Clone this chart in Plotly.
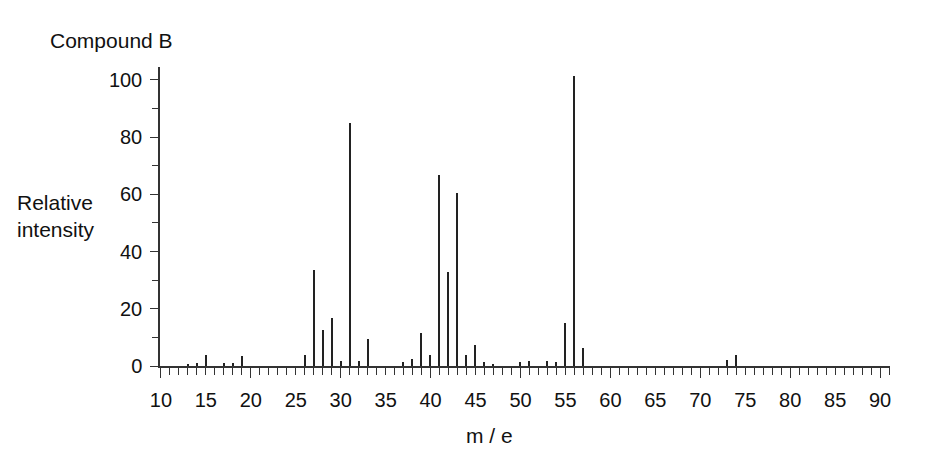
import plotly.graph_objects as go

# mass spectrum peaks (m/e) and relative intensity
mz = [13, 14, 15, 17, 18, 19, 26, 27, 28, 29, 30, 31, 32, 33,
      37, 38, 39, 40, 41, 42, 43, 44, 45, 46, 47, 50, 51, 53, 54,
      55, 56, 57, 73, 74]
intensity = [0.8, 1, 3.7, 1, 1, 3.5, 3.7, 33.6, 12.6, 16.8, 1.8, 85, 1.7, 9.4,
             1.4, 2.6, 11.7, 3.7, 66.7, 33, 60.6, 3.7, 7.5, 1.3, 0.8, 1.3, 1.7, 1.9, 1.3,
             14.9, 101.5, 6.4, 2, 3.8]

x_range = [9.9, 91.1]
y_range = [0, 104.5]
tick_font = dict(family="Liberation Sans, Arial, sans-serif", size=20, color="#111")
label_font = dict(family="Liberation Sans, Arial, sans-serif", size=21, color="#111")
axis_col = "#333"

fig = go.Figure()
fig.add_trace(go.Bar(x=mz, y=intensity, width=0.15,
                     marker=dict(color="#222", line=dict(width=0)),
                     hoverinfo="x+y"))
# invisible trace so the overlay axis (long ticks every 10) is drawn
fig.add_trace(go.Scatter(x=[x_range[0]], y=[0], xaxis="x2", mode="markers",
                         marker=dict(opacity=0), showlegend=False, hoverinfo="skip"))

# page body has an 8px margin, so the plot area is nudged up/left by 8px
fig.update_layout(
    width=949, height=456,
    margin=dict(l=152, r=67, t=59, b=98),
    paper_bgcolor="white", plot_bgcolor="white",
    showlegend=False, font=tick_font, bargap=0,
    xaxis=dict(range=x_range, tickmode="linear", tick0=10, dtick=5,
               ticks="outside", ticklen=7, tickwidth=1.3, tickcolor=axis_col,
               minor=dict(dtick=1, tick0=10, ticks="outside", ticklen=7,
                          tickwidth=1.3, tickcolor=axis_col, showgrid=False),
               ticklabelstandoff=8, tickfont=tick_font,
               showline=True, linecolor=axis_col, linewidth=1.5,
               showgrid=False, zeroline=False),
    xaxis2=dict(overlaying="x", matches="x", side="bottom", anchor="y",
                tickmode="linear", tick0=10, dtick=10,
                ticks="outside", ticklen=11, tickwidth=1.3, tickcolor=axis_col,
                showticklabels=False, showline=False, showgrid=False, zeroline=False),
    yaxis=dict(range=y_range, tickmode="linear", tick0=0, dtick=20,
               ticks="outside", ticklen=8, tickwidth=1.3, tickcolor=axis_col,
               minor=dict(dtick=10, ticks="outside", ticklen=6,
                          tickwidth=1.3, tickcolor=axis_col, showgrid=False),
               ticklabelstandoff=4, tickfont=tick_font,
               showline=True, linecolor=axis_col, linewidth=1.5,
               showgrid=False, zeroline=False),
    annotations=[
        dict(text="Compound B", xref="paper", yref="paper", x=-0.153, y=1.09,
             xanchor="left", yanchor="middle", showarrow=False, font=label_font),
        dict(text="Relative<br>intensity", xref="paper", yref="paper", x=-0.199, y=0.502,
             xanchor="left", yanchor="middle", align="left", showarrow=False, font=label_font),
        dict(text="m / e", xref="paper", yref="paper", x=0.452, y=-0.232,
             xanchor="center", yanchor="middle", showarrow=False, font=label_font),
    ],
)

fig.write_html("out.html")
